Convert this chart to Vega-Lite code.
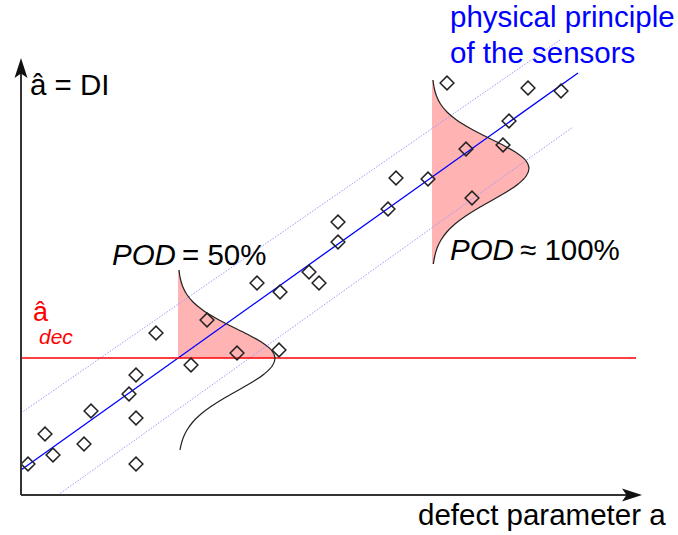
{
  "$schema": "https://vega.github.io/schema/vega-lite/v6.json",
  "width": 620,
  "height": 435,
  "autosize": {"type": "none"},
  "padding": {"left": 21, "top": 60, "right": 37, "bottom": 40},
  "background": "white",
  "config": {"view": {"stroke": null}, "text": {"font": "Liberation Sans"}},
  "datasets": {
    "points": [
      {"a": 7, "ahat": 31}, {"a": 24, "ahat": 61}, {"a": 32, "ahat": 40}, {"a": 63, "ahat": 51},
      {"a": 70, "ahat": 84}, {"a": 108, "ahat": 101}, {"a": 115, "ahat": 120}, {"a": 115, "ahat": 77},
      {"a": 115, "ahat": 31}, {"a": 135, "ahat": 162}, {"a": 170, "ahat": 130}, {"a": 186, "ahat": 175},
      {"a": 216, "ahat": 142}, {"a": 236, "ahat": 212}, {"a": 259, "ahat": 203}, {"a": 258, "ahat": 145},
      {"a": 288, "ahat": 223}, {"a": 298, "ahat": 212}, {"a": 317, "ahat": 273}, {"a": 317, "ahat": 253},
      {"a": 367, "ahat": 286}, {"a": 375, "ahat": 317}, {"a": 407, "ahat": 316}, {"a": 451, "ahat": 297},
      {"a": 445, "ahat": 346}, {"a": 482, "ahat": 350}, {"a": 488, "ahat": 374}, {"a": 426, "ahat": 412},
      {"a": 507, "ahat": 407}, {"a": 540, "ahat": 404}
    ],
    "curve1": [
      {"y": 225, "x": 158.0}, {"y": 217, "x": 159.2}, {"y": 209, "x": 161.5}, {"y": 201, "x": 165.5},
      {"y": 193, "x": 172.0}, {"y": 185, "x": 181.6}, {"y": 177, "x": 194.5}, {"y": 169, "x": 209.8},
      {"y": 161, "x": 225.9}, {"y": 153, "x": 240.3}, {"y": 145, "x": 250.4}, {"y": 137, "x": 254.0},
      {"y": 129, "x": 251.2}, {"y": 121, "x": 243.2}, {"y": 113, "x": 231.5}, {"y": 105, "x": 217.6},
      {"y": 97, "x": 203.5}, {"y": 89, "x": 190.7}, {"y": 81, "x": 180.0}, {"y": 73, "x": 171.8},
      {"y": 65, "x": 166.0}, {"y": 57, "x": 162.1}, {"y": 49, "x": 159.8}, {"y": 45, "x": 159.0}
    ],
    "curve2": [
      {"y": 415, "x": 412.0}, {"y": 407, "x": 413.2}, {"y": 399, "x": 415.5}, {"y": 391, "x": 419.5},
      {"y": 383, "x": 426.0}, {"y": 375, "x": 435.6}, {"y": 367, "x": 448.5}, {"y": 359, "x": 463.8},
      {"y": 351, "x": 479.9}, {"y": 343, "x": 494.3}, {"y": 335, "x": 504.4}, {"y": 327, "x": 508.0},
      {"y": 319, "x": 505.2}, {"y": 311, "x": 497.2}, {"y": 303, "x": 485.5}, {"y": 295, "x": 471.6},
      {"y": 287, "x": 457.5}, {"y": 279, "x": 444.7}, {"y": 271, "x": 434.0}, {"y": 263, "x": 425.8},
      {"y": 255, "x": 420.0}, {"y": 247, "x": 416.1}, {"y": 239, "x": 413.8}, {"y": 231, "x": 412.4}
    ],
    "segments": [
      {"kind": "upper", "x": 0, "y": 82, "x2": 539, "y2": 455},
      {"kind": "lower", "x": 37, "y": 0, "x2": 552, "y2": 368},
      {"kind": "fit", "x": 0, "y": 25, "x2": 557, "y2": 422},
      {"kind": "threshold", "x": 0, "y": 137, "x2": 615, "y2": 137},
      {"kind": "axis", "x": 0, "y": 0, "x2": 614, "y2": 0},
      {"kind": "axis", "x": 0, "y": 0, "x2": 0, "y2": 430}
    ]
  },
  "layer": [
    {
      "data": {"name": "curve1"},
      "transform": [{"filter": "datum.y >= 137"}],
      "mark": {"type": "area", "orient": "horizontal", "color": "#ffb3b3", "interpolate": "catmull-rom"},
      "encoding": {
        "y": {"field": "y", "type": "quantitative", "scale": {"domain": [0, 435], "nice": false, "zero": false}, "axis": null},
        "x": {"field": "x", "type": "quantitative", "scale": {"domain": [0, 620], "nice": false, "zero": false}, "axis": null},
        "x2": {"datum": 157}
      }
    },
    {
      "data": {"name": "curve2"},
      "mark": {"type": "area", "orient": "horizontal", "color": "#ffb3b3", "interpolate": "catmull-rom"},
      "encoding": {
        "y": {"field": "y", "type": "quantitative"},
        "x": {"field": "x", "type": "quantitative"},
        "x2": {"datum": 411}
      }
    },
    {
      "data": {"name": "segments"},
      "transform": [{"filter": "datum.kind === 'upper' || datum.kind === 'lower'"}],
      "mark": {"type": "rule", "color": "#9a9aff", "strokeWidth": 1, "strokeDash": [1.5, 1.5]},
      "encoding": {
        "x": {"field": "x", "type": "quantitative"},
        "y": {"field": "y", "type": "quantitative"},
        "x2": {"field": "x2"},
        "y2": {"field": "y2"}
      }
    },
    {
      "data": {"name": "segments"},
      "transform": [{"filter": "datum.kind === 'fit'"}],
      "mark": {"type": "rule", "color": "#0000ff", "strokeWidth": 1.3},
      "encoding": {
        "x": {"field": "x", "type": "quantitative"},
        "y": {"field": "y", "type": "quantitative"},
        "x2": {"field": "x2"},
        "y2": {"field": "y2"}
      }
    },
    {
      "data": {"name": "segments"},
      "transform": [{"filter": "datum.kind === 'threshold'"}],
      "mark": {"type": "rule", "color": "#ff0000", "strokeWidth": 1.5},
      "encoding": {
        "x": {"field": "x", "type": "quantitative"},
        "y": {"field": "y", "type": "quantitative"},
        "x2": {"field": "x2"},
        "y2": {"field": "y2"}
      }
    },
    {
      "data": {"name": "curve1"},
      "mark": {"type": "line", "color": "#222222", "strokeWidth": 1.2, "interpolate": "catmull-rom"},
      "encoding": {
        "x": {"field": "x", "type": "quantitative"},
        "y": {"field": "y", "type": "quantitative"},
        "order": {"field": "y", "type": "quantitative"}
      }
    },
    {
      "data": {"name": "curve2"},
      "mark": {"type": "line", "color": "#222222", "strokeWidth": 1.2, "interpolate": "catmull-rom"},
      "encoding": {
        "x": {"field": "x", "type": "quantitative"},
        "y": {"field": "y", "type": "quantitative"},
        "order": {"field": "y", "type": "quantitative"}
      }
    },
    {
      "data": {"name": "points"},
      "mark": {"type": "point", "shape": "diamond", "size": 190, "filled": false, "color": "#222222", "strokeWidth": 1.5, "opacity": 1},
      "encoding": {
        "x": {"field": "a", "type": "quantitative"},
        "y": {"field": "ahat", "type": "quantitative"}
      }
    },
    {
      "data": {"name": "segments"},
      "transform": [{"filter": "datum.kind === 'axis'"}],
      "mark": {"type": "rule", "color": "#333333", "strokeWidth": 2},
      "encoding": {
        "x": {"field": "x", "type": "quantitative"},
        "y": {"field": "y", "type": "quantitative"},
        "x2": {"field": "x2"},
        "y2": {"field": "y2"}
      }
    },
    {
      "data": {"values": [{"x": 611, "y": 0}]},
      "mark": {"type": "point", "shape": "M1,0L-1,-0.65L-0.55,0L-1,0.65Z", "size": 400, "filled": true, "color": "#111111", "opacity": 1},
      "encoding": {
        "x": {"field": "x", "type": "quantitative"},
        "y": {"field": "y", "type": "quantitative"}
      }
    },
    {
      "data": {"values": [{"x": 0, "y": 427}]},
      "mark": {"type": "point", "shape": "M0,-1L-0.65,1L0,0.55L0.65,1Z", "size": 400, "filled": true, "color": "#111111", "opacity": 1},
      "encoding": {
        "x": {"field": "x", "type": "quantitative"},
        "y": {"field": "y", "type": "quantitative"}
      }
    },
    {
      "data": {"values": [
        {"label": "â = DI", "x": 9, "y": 400},
        {"label": "defect parameter a", "x": 397, "y": -30}
      ]},
      "mark": {"type": "text", "align": "left", "baseline": "alphabetic", "fontSize": 29.5, "color": "#000000"},
      "encoding": {
        "x": {"field": "x", "type": "quantitative"},
        "y": {"field": "y", "type": "quantitative"},
        "text": {"field": "label"}
      }
    },
    {
      "data": {"values": [
        {"label": "physical principle", "x": 429, "y": 468},
        {"label": "of the sensors", "x": 429, "y": 432}
      ]},
      "mark": {"type": "text", "align": "left", "baseline": "alphabetic", "fontSize": 29.5, "color": "#0000ff"},
      "encoding": {
        "x": {"field": "x", "type": "quantitative"},
        "y": {"field": "y", "type": "quantitative"},
        "text": {"field": "label"}
      }
    },
    {
      "data": {"values": [
        {"label": "POD", "x": 91, "y": 230},
        {"label": "POD", "x": 429, "y": 235}
      ]},
      "mark": {"type": "text", "align": "left", "baseline": "alphabetic", "fontSize": 29.5, "fontStyle": "italic", "color": "#000000"},
      "encoding": {
        "x": {"field": "x", "type": "quantitative"},
        "y": {"field": "y", "type": "quantitative"},
        "text": {"field": "label"}
      }
    },
    {
      "data": {"values": [
        {"label": "= 50%", "x": 161, "y": 230},
        {"label": "≈ 100%", "x": 499, "y": 235}
      ]},
      "mark": {"type": "text", "align": "left", "baseline": "alphabetic", "fontSize": 29.5, "color": "#000000"},
      "encoding": {
        "x": {"field": "x", "type": "quantitative"},
        "y": {"field": "y", "type": "quantitative"},
        "text": {"field": "label"}
      }
    },
    {
      "data": {"values": [{"label": "â", "x": 12, "y": 174}]},
      "mark": {"type": "text", "align": "left", "baseline": "alphabetic", "fontSize": 27, "color": "#ff0000"},
      "encoding": {
        "x": {"field": "x", "type": "quantitative"},
        "y": {"field": "y", "type": "quantitative"},
        "text": {"field": "label"}
      }
    },
    {
      "data": {"values": [{"label": "dec", "x": 18, "y": 151}]},
      "mark": {"type": "text", "align": "left", "baseline": "alphabetic", "fontSize": 21, "fontStyle": "italic", "color": "#ff0000"},
      "encoding": {
        "x": {"field": "x", "type": "quantitative"},
        "y": {"field": "y", "type": "quantitative"},
        "text": {"field": "label"}
      }
    }
  ]
}
